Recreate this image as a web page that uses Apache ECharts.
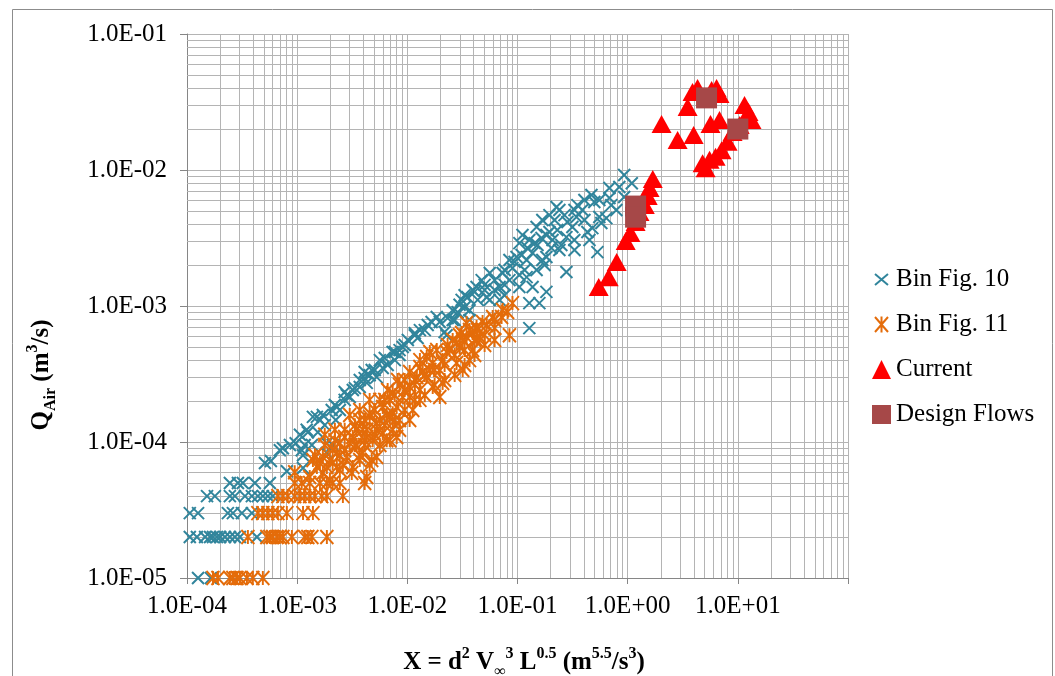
<!DOCTYPE html>
<html><head><meta charset="utf-8">
<script src="https://cdn.jsdelivr.net/npm/echarts@6/dist/echarts.min.js"></script>
<style>html,body{margin:0;padding:0;background:#fff}#c{width:1055px;height:676px}</style>
</head><body><div id="c"></div><script>
// ---- data (x = d^2 V^3 L^0.5, y = Q_Air) ----
const binFig10 = [
 [1.26e-4,1e-5],[1.65e-4,1e-5],
 [1.06e-4,2e-5],[1.23e-4,2e-5],[1.46e-4,2e-5],[1.62e-4,2e-5],[1.72e-4,2e-5],[1.87e-4,2e-5],[2.0e-4,2e-5],[2.21e-4,2e-5],[2.45e-4,2e-5],[2.72e-4,2e-5],[3.02e-4,2e-5],[4.31e-4,2e-5],
 [1.06e-4,3e-5],[1.26e-4,3e-5],[2.35e-4,3e-5],[2.61e-4,3e-5],[3.15e-4,3e-5],[3.88e-4,3e-5],
 [1.52e-4,4e-5],[1.79e-4,4e-5],[2.45e-4,4e-5],[2.72e-4,4e-5],[3.36e-4,4e-5],[3.88e-4,4e-5],[4.4e-4,4e-5],[4.88e-4,4e-5],[5.42e-4,4e-5],[6.0e-4,4e-5],
 [2.45e-4,5e-5],[2.9e-4,5e-5],[3.21e-4,5e-5],[4.13e-4,5e-5],[5.65e-4,5e-5],
 [5.1e-4,7.0e-5],[5.77e-4,7.25e-5],[7.42e-4,9.0e-5],[8.06e-4,6.1e-5],[8.6e-4,9.5e-5],[6.96e-4,8.7e-5],[9.7e-4,9.8e-5],
 [1.06e-3,1.13e-4],[1.13e-3,6.44e-5],[1.17e-3,9.5e-5],[1.13e-3,8.0e-5],[1.25e-3,1.18e-4],[1.36e-3,9.5e-5],[1.39e-3,1.53e-4],[1.51e-3,1.53e-4],[1.71e-3,1.58e-4],[1.86e-3,8.3e-5],[1.86e-3,9.8e-5],[2.06e-3,1.72e-4],[2.1e-3,9.5e-5],[1.22e-3,1.23e-4],[1.10e-3,8.7e-5],[2.29e-3,1.81e-4],[2.44e-3,1.72e-4],[2.82e-3,2.21e-4],[3.0e-3,2.14e-4],[3.2e-3,2.41e-4],[3.7e-3,2.54e-4],[3.7e-3,2.86e-4],[4.28e-3,2.72e-4],[4.55e-3,3.1e-4],[5.27e-3,3.0e-4],[5.98e-3,3.5e-4],[6.63e-3,3.68e-4],[8.5e-3,4.36e-4],[8.5e-3,4.74e-4],[9.07e-3,5.0e-4],
 [1.17e-2,6.1e-4],[1.17e-2,6.3e-4],[1.53e-2,7.25e-4],[1.85e-2,8.3e-4],[2.18e-2,6.44e-4],[2.27e-2,6.1e-4],[2.58e-2,9.3e-4],[2.58e-2,7.9e-4],[3.31e-2,9.8e-4],[3.52e-2,1.16e-3],[3.91e-2,1.31e-3],[4.25e-2,1.38e-3],[4.35e-2,1.11e-3],[4.73e-2,1.55e-3],[5.25e-2,1.16e-3],[5.6e-2,1.75e-3],[6.88e-2,1.38e-3],[6.88e-2,1.11e-3],[7.33e-2,1.75e-3],[8.45e-2,1.55e-3],[8.45e-2,2.18e-3],[9.0e-2,1.9e-3],[9.8e-2,2.29e-3],
 [1.04e-1,2.9e-3],[1.04e-1,1.69e-3],[1.04e-1,1.38e-3],[1.11e-1,3.33e-3],[1.21e-1,2.18e-3],[1.21e-1,1.63e-3],[1.28e-1,3.06e-3],[1.28e-1,1.05e-3],[1.28e-1,6.88e-4],[1.37e-1,2.45e-3],[1.37e-1,1.38e-3],[1.49e-1,3.81e-3],[1.49e-1,1.84e-3],[1.52e-1,2.81e-3],[1.58e-1,1.05e-3],[1.68e-1,4.29e-3],[1.68e-1,2.18e-3],[1.83e-1,3.33e-3],[1.83e-1,2.29e-3],[1.83e-1,1.27e-3],[2.03e-1,2.67e-3],[2.08e-1,3.06e-3],[2.26e-1,5.34e-3],[2.3e-1,3.62e-3],[2.4e-1,5.08e-3],[2.78e-1,3.21e-3],[2.78e-1,1.78e-3],[2.84e-1,4.15e-3],[3.15e-1,3.81e-3],[3.43e-1,4.51e-3],[3.5e-1,5.52e-3],[3.88e-1,5.08e-3],[4.31e-1,3.5e-3],[4.78e-1,3.74e-3],[4.98e-1,5.82e-3],[5.31e-1,2.49e-3],[5.53e-1,4.51e-3],[5.77e-1,4.08e-3],[6.4e-1,4.43e-3],[6.83e-1,7.37e-3],[7.1e-1,5.52e-3],[7.9e-1,5.08e-3],[8.4e-1,7.5e-3],[9.3e-1,9.2e-3],[1.09,8.0e-3],[9.3e-1,6.33e-3],
 [1.95e-1,4.66e-3],[2.5e-1,2.81e-3],[3.28e-1,3.06e-3],[4.05e-1,4.29e-3],
 [1.3e-2,6.65e-4],[1.66e-2,7.63e-4],[2.86e-2,9.0e-4],[3.11e-2,1.11e-3],[3.67e-2,9.3e-4],[5.03e-2,1.43e-3],[6.2e-2,1.31e-3],[7.63e-2,1.2e-3],
 [2.7e-3,2.04e-4],[4.1e-3,3.27e-4],[4.75e-3,3.38e-4],[5.63e-3,4.0e-4],[7.36e-3,4.59e-4],[1.01e-2,5.63e-4],[7.7e-3,4.0e-4],[1.78e-3,1.33e-4],[1.54e-3,1.18e-4],[2.24e-3,1.45e-4],
 [1.61e-3,1.45e-4],[2.2e-3,1.87e-4],[2.7e-3,2.33e-4],[3.34e-3,2.49e-4],[4.1e-3,2.95e-4],[5.06e-3,3.38e-4],[6.24e-3,4.15e-4],[7.69e-3,4.59e-4],[9.47e-3,5.17e-4],[1.24e-2,5.82e-4],[1.44e-2,6.65e-4],[1.97e-2,7.63e-4],[2.32e-2,8.16e-4],[2.98e-2,1.02e-3],[3.31e-2,1.2e-3],[4.08e-2,1.27e-3],[5.03e-2,1.31e-3],[6.2e-2,1.55e-3],[7.64e-2,1.84e-3],[9.41e-2,2.11e-3],
 [1.09e-1,2.37e-3],[1.23e-1,2.67e-3],[1.43e-1,2.9e-3],[1.65e-1,3.16e-3],[1.95e-1,3.5e-3],[2.17e-1,4.29e-3],[2.67e-1,4.66e-3],[3.29e-1,5.08e-3],[4.05e-1,6.01e-3],[4.69e-1,6.55e-3],[5.53e-1,6.01e-3],[6.83e-1,6.22e-3],[1.76e-1,2.0e-3],[2.4e-1,2.58e-3],[3.29e-1,2.58e-3],[4.5e-1,3.06e-3],[1.16e-1,1.84e-3],[7.64e-2,1.43e-3],[5.6e-2,1.11e-3],[2.69e-2,7.9e-4],[3.67e-2,7.9e-4]
];
const binFig11 = [
 [1.72e-4,1e-5],[1.91e-4,1e-5],[2.45e-4,1e-5],[2.61e-4,1e-5],[2.84e-4,1e-5],[3.02e-4,1e-5],[3.5e-4,1e-5],[3.96e-4,1e-5],[4.88e-4,1e-5],
 [3.57e-4,2e-5],[5.31e-4,2e-5],[5.65e-4,2e-5],[6.0e-4,2e-5],[6.54e-4,2e-5],[6.96e-4,2e-5],[7.42e-4,2e-5],[8.95e-4,2e-5],[1.17e-3,2e-5],[1.25e-3,2e-5],[1.36e-3,2e-5],[1.86e-3,2e-5],
 [4.4e-4,3e-5],[4.88e-4,3e-5],[5.42e-4,3e-5],[6.0e-4,3e-5],[6.68e-4,3e-5],[8.06e-4,3e-5],[1.13e-3,3e-5],[1.39e-3,3e-5],
 [6.68e-4,4e-5],[7.42e-4,4e-5],[8.22e-4,4e-5],[9.5e-4,4e-5],[1.06e-3,4e-5],[1.17e-3,4e-5],[1.30e-3,4e-5],[1.45e-3,4e-5],[1.67e-3,4e-5],[1.86e-3,4e-5],[2.6e-3,4e-5],
 [9.5e-4,5e-5],[1.10e-3,5e-5],[1.30e-3,5e-5],[1.61e-3,5e-5],[1.86e-3,5e-5],[2.1e-3,5e-5],[2.44e-3,5e-5],[4.1e-3,5e-5],
 [9.5e-4,6.0e-5],[1.30e-3,5.52e-5],[1.51e-3,6.54e-5],[1.61e-3,7.0e-5],[1.71e-3,7.76e-5],[1.71e-3,5.92e-5],[1.98e-3,5.26e-5],[2.1e-3,8.72e-5],[2.1e-3,7.0e-5],[2.29e-3,6.54e-5],[2.29e-3,8.31e-5],[2.44e-3,9.84e-5],[2.7e-3,1.09e-4],[2.82e-3,7.76e-5],[3.0e-3,9.84e-5],[3.13e-3,5.92e-5],[3.2e-3,1.09e-4],[3.2e-3,6.54e-5],[3.47e-3,1.23e-4],[3.7e-3,1.45e-4],[3.94e-3,8.31e-5],[3.94e-3,1.23e-4],[4.28e-3,1.23e-4],[4.28e-3,1.09e-4],[4.28e-3,5.52e-5],[4.55e-3,1.63e-4],[4.55e-3,1.53e-4],[4.55e-3,6.79e-5],[4.75e-3,7.37e-5],[4.85e-3,1.03e-4],[5.27e-3,1.38e-4],[5.27e-3,1.23e-4],[5.27e-3,7.76e-5],[5.63e-3,1.45e-4],[5.98e-3,1.81e-4],[5.98e-3,1.16e-4],[6.5e-3,1.58e-4],[6.93e-3,2.04e-4],[6.93e-3,1.53e-4],[7.36e-3,2.29e-4],[7.36e-3,1.63e-4],[7.36e-3,1.23e-4],[8.0e-3,1.81e-4],[8.0e-3,1.09e-4],[9.07e-3,2.14e-4],
 [1.05e-2,2.54e-4],[1.05e-2,2.14e-4],[1.05e-2,1.45e-4],[1.12e-2,1.72e-4],[1.22e-2,3.0e-4],[1.3e-2,3.56e-4],[1.3e-2,2.41e-4],[1.5e-2,4.22e-4],[1.5e-2,3.0e-4],[1.7e-2,3.81e-4],[1.7e-2,2.54e-4],[1.97e-2,3.38e-4],[1.97e-2,2.14e-4],[2.09e-2,4.0e-4],[2.09e-2,2.72e-4],[2.27e-2,4.59e-4],[2.42e-2,4.74e-4],[2.8e-2,5.34e-4],[2.8e-2,3.81e-4],[2.98e-2,5.0e-4],[3.18e-2,5.63e-4],[3.18e-2,3.38e-4],[3.45e-2,5.92e-4],[3.45e-2,7.5e-4],[3.67e-2,6.65e-4],[3.67e-2,4.0e-4],[3.91e-2,6.33e-4],[3.91e-2,4.74e-4],[4.25e-2,7.0e-4],[4.53e-2,5.92e-4],[4.82e-2,7.63e-4],[5.25e-2,7.25e-4],[5.95e-2,8.31e-4],[6.2e-2,7.9e-4],[7.17e-2,8.31e-4],[7.33e-2,9.36e-4],[8.13e-2,9.04e-4],[8.45e-2,6.1e-4],[9.0e-2,1.05e-3],
 [1.39e-3,7.37e-5],[1.86e-3,6.54e-5],[2.44e-3,8.0e-5],[2.6e-3,6.79e-5],[3.47e-3,9.5e-5],[3.7e-3,8.0e-5],[4.1e-3,9.5e-5],[6.5e-3,1.03e-4],[5.63e-3,2.04e-4],[8.5e-3,2.63e-4],[9.47e-3,2.86e-4],[1.17e-2,2.86e-4],[1.38e-2,3.27e-4],[1.6e-2,3.38e-4],[1.85e-2,4.74e-4],[2.58e-2,5.63e-4],[2.98e-2,6.1e-4],[4.25e-2,5.63e-4],[8.5e-3,1.45e-4],[1.3e-2,2.04e-4],
 [1.45e-3,8.0e-5],[1.78e-3,9.5e-5],[2.2e-3,1.03e-4],[2.7e-3,1.23e-4],[2.7e-3,8.7e-5],[3.34e-3,1.33e-4],[3.34e-3,9.5e-5],[4.1e-3,1.45e-4],[4.1e-3,1.03e-4],[5.06e-3,1.72e-4],[5.06e-3,1.13e-4],[6.24e-3,2.04e-4],[6.24e-3,1.33e-4],[7.69e-3,2.21e-4],[7.69e-3,1.45e-4],[9.47e-3,2.41e-4],[9.47e-3,1.72e-4],
 [1.17e-2,2.63e-4],[1.17e-2,2.04e-4],[1.44e-2,3.11e-4],[1.44e-2,2.21e-4],[1.77e-2,3.38e-4],[1.77e-2,2.63e-4],[2.18e-2,3.68e-4],[2.18e-2,2.86e-4],[2.69e-2,4.36e-4],[2.69e-2,3.11e-4],[3.31e-2,4.74e-4],[3.31e-2,3.68e-4],[4.08e-2,5.63e-4],[4.08e-2,4.36e-4],[5.03e-2,6.12e-4],[5.03e-2,5.17e-4],[6.2e-2,6.88e-4],[6.2e-2,5.63e-4],
 [1.98e-3,7.37e-5],[2.44e-3,6.22e-5],[3.7e-3,7.37e-5],[5.63e-3,9.5e-5],[6.93e-3,1.03e-4],[8.5e-3,1.23e-4],[3.7e-3,1.72e-4],[4.55e-3,2.04e-4],[6.63e-3,2.41e-4],[8.17e-3,2.86e-4],[1.05e-2,3.27e-4],[1.3e-2,4.0e-4],[1.6e-2,4.59e-4],[2.32e-2,5.17e-4],[3.11e-2,6.33e-4],[4.35e-2,6.65e-4],[3.0e-3,1.58e-4],[2.2e-3,1.23e-4],[1.78e-3,1.13e-4]
];
const current = [
 [0.546,1.38e-3],[0.673,1.63e-3],[0.795,2.11e-3],[0.96,3.0e-3],[1.06,3.44e-3],[1.18,4.15e-3],[1.28,4.91e-3],[1.43,5.53e-3],[1.52,6.44e-3],[1.58,7.37e-3],[1.69,8.59e-3],
 [2.03,2.18e-2],[2.84,1.66e-2],[3.50,2.90e-2],[3.97,1.81e-2],[3.88,3.75e-2],[4.31,4.01e-2],[5.78,3.88e-2],[6.41,4.01e-2],[6.82,3.62e-2],[5.65,2.18e-2],[6.82,2.33e-2],
 [4.79,1.12e-2],[5.54,1.19e-2],[6.28,1.25e-2],[7.12,1.40e-2],[8.07,1.61e-2],[8.96,1.90e-2],[11.5,3.0e-2],[12.5,2.67e-2],[13.3,2.33e-2],[10.4,2.14e-2],[5.1,1.03e-2]
];
const designFlows = [[1.18,5.43e-3],[1.18,4.5e-3],[5.2,3.39e-2],[10.0,2.0e-2]];
const seriesNames = ['Bin Fig. 10','Bin Fig. 11','Current','Design Flows'];
const xRange = [1e-4, 1e2];
const yRange = [1e-5, 1e-1];
const xTickExps = [-4,-3,-2,-1,0,1];
const xTickLabels = ['1.0E-04','1.0E-03','1.0E-02','1.0E-01','1.0E+00','1.0E+01'];
const yTickExps = [-5,-4,-3,-2,-1];
const yTickLabels = ['1.0E-05','1.0E-04','1.0E-03','1.0E-02','1.0E-01'];

// minor grid positions (2..9 within each decade)
const minorX = [], minorY = [];
for (let d=-4; d<=1; d++) for (let k=2;k<=9;k++) minorX.push(k*Math.pow(10,d));
for (let d=-5; d<=-2; d++) for (let k=2;k<=9;k++) minorY.push(k*Math.pow(10,d));

const FONT = "'Liberation Serif','Times New Roman',serif";
const TEAL = '#31859C', ORANGE = '#E46C0A', RED = '#FF0000', BROWN = '#A64848';
const GRID = '#B4B4B4', AXIS = '#868686';

function lab(exps, labels){ return v => { const e = Math.round(Math.log10(v)); const i = exps.indexOf(e); return i>=0 ? labels[i] : ''; }; }
const richT = {
  b:{fontFamily:FONT, fontWeight:'bold', fontSize:25, fill:'#000', lineHeight:34},
  sup:{fontFamily:FONT, fontWeight:'bold', fontSize:16, fill:'#000', lineHeight:16, verticalAlign:'top'},
  sub:{fontFamily:FONT, fontWeight:'bold', fontSize:16, fill:'#000', lineHeight:16, verticalAlign:'bottom'}
};

const gridLines = [].concat(
  minorX.map(v=>({coords:[[v,yRange[0]],[v,yRange[1]]]})),
  minorY.map(v=>({coords:[[xRange[0],v],[xRange[1],v]]}))
);

const chart = echarts.init(document.getElementById('c'), null, {renderer:'canvas'});
chart.setOption({
  animation:false,
  backgroundColor:'#fff',
  textStyle:{fontFamily:FONT},
  graphic:[
    {type:'rect', left:10, top:7, shape:{width:1040, height:720}, style:{fill:'none', stroke:'#8C8C8C', lineWidth:1}, silent:true},
    {type:'text', x:524, y:663, silent:true, style:{
      text:'{b|X = d}{sup|2}{b| V}{sub|∞}{sup|3}{b| L}{sup|0.5}{b| (m}{sup|5.5}{b|/s}{sup|3}{b|)}',
      align:'center', verticalAlign:'middle', rich:richT}},
    {type:'text', x:42, y:375, rotation:Math.PI/2, silent:true, style:{
      text:'{b|Q}{sub|Air}{b| (m}{sup|3}{b|/s)}',
      align:'center', verticalAlign:'middle', rich:richT}}
  ],
  grid:{left:187, right:207, top:34, bottom:98, containLabel:false, outerBoundsMode:'none'},
  legend:{
    orient:'vertical', left:866, top:262, itemWidth:19, itemHeight:19, itemGap:20,
    textStyle:{fontFamily:FONT, fontSize:25, color:'#000', lineHeight:25},
    data:[
      {name:seriesNames[0], icon:'path://M0,0L0,0M3,4L16,15M16,4L3,15M19,19L19,19', itemStyle:{color:TEAL, borderColor:TEAL, borderWidth:2, opacity:1}},
      {name:seriesNames[1], icon:'path://M0,0L0,0M3,2L16,17M16,2L3,17M9.5,1.5L9.5,17.5M19,19L19,19', itemStyle:{color:ORANGE, borderColor:ORANGE, borderWidth:2, opacity:1}},
      {name:seriesNames[2], icon:'triangle', itemStyle:{color:RED, borderWidth:0, opacity:1}},
      {name:seriesNames[3], icon:'rect', itemStyle:{color:BROWN, borderWidth:0, opacity:1}}
    ]
  },
  xAxis:{
    type:'log', logBase:10, min:xRange[0], max:xRange[1],
    axisLine:{show:true, onZero:false, lineStyle:{color:AXIS, width:1}},
    axisTick:{show:true, length:6, lineStyle:{color:AXIS}},
    axisLabel:{formatter:lab(xTickExps,xTickLabels), fontFamily:FONT, fontSize:25, color:'#000', margin:16},
    splitLine:{show:true, lineStyle:{color:GRID, width:1}}
  },
  yAxis:{
    type:'log', logBase:10, min:yRange[0], max:yRange[1],
    axisLine:{show:true, onZero:false, lineStyle:{color:AXIS, width:1}},
    axisTick:{show:true, length:7, lineStyle:{color:AXIS}},
    axisLabel:{formatter:lab(yTickExps,yTickLabels), fontFamily:FONT, fontSize:25, color:'#000', margin:20},
    splitLine:{show:true, lineStyle:{color:GRID, width:1}}
  },
  series:[
    {type:'lines', coordinateSystem:'cartesian2d', polyline:false, silent:true, z:1, data:gridLines,
     lineStyle:{color:GRID, width:1, opacity:1, curveness:0}, effect:{show:false}},
    {name:seriesNames[0], type:'scatter', data:binFig10, symbol:'path://M0,0L10,10M10,0L0,10', symbolSize:[12,12],
     itemStyle:{color:TEAL, borderColor:TEAL, borderWidth:2, opacity:1}, z:2},
    {name:seriesNames[1], type:'scatter', data:binFig11, symbol:'path://M0,0L10,12M10,0L0,12M5,0L5,12', symbolSize:[13,14],
     itemStyle:{color:ORANGE, borderColor:ORANGE, borderWidth:2, opacity:1}, z:3},
    {name:seriesNames[2], type:'scatter', data:current, symbol:'triangle', symbolSize:[20,18],
     itemStyle:{color:RED, opacity:1}, z:4},
    {name:seriesNames[3], type:'scatter', data:designFlows, symbol:'rect', symbolSize:[21,21],
     itemStyle:{color:BROWN, opacity:1}, z:5}
  ]
});
</script></body></html>
